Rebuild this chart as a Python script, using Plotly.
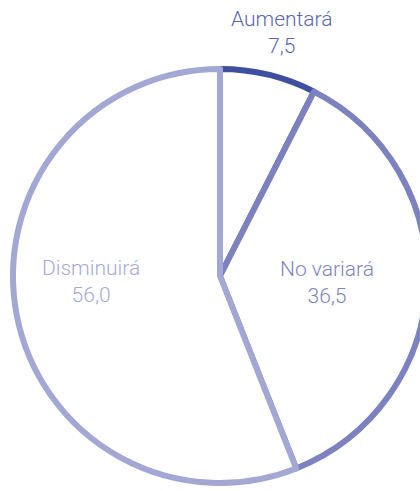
import plotly.graph_objects as go

labels = ["Aumentará", "No variará", "Disminuirá"]
values = [7.5, 36.5, 56.0]
line_colors = ["#3f4f9f", "#7b82bf", "#a3a7d4"]
text_colors = ["#5c67b1", "#7e85c2", "#a6aad6"]

W, H = 440, 491
cx, cy, r = 220, 276, 207

fig = go.Figure(go.Pie(
    labels=labels,
    values=values,
    sort=False,
    direction="clockwise",
    rotation=0,
    textinfo="none",
    hoverinfo="label+value",
    marker=dict(colors=["white"] * 3, line=dict(color=line_colors, width=6)),
    domain=dict(x=[(cx - r) / W, (cx + r) / W], y=[(H - cy - r) / H, (H - cy + r) / H]),
    showlegend=False,
))

label_pos = [(282, 32), (327, 282), (91, 281)]
for lab, val, col, (x, y) in zip(labels, values, text_colors, label_pos):
    fig.add_annotation(
        x=x / W, y=1 - y / H, xref="paper", yref="paper",
        text=f"{lab}<br>{val:.1f}".replace(".", ","),
        showarrow=False, xanchor="center", yanchor="middle",
        font=dict(family="Roboto, Liberation Sans, Arial, sans-serif", size=21, color=col, weight=300),
    )

fig.update_layout(
    width=W, height=H,
    margin=dict(l=0, r=0, t=0, b=0),
    paper_bgcolor="white", plot_bgcolor="white",
)

fig.write_html(
    "out.html",
    config={"displayModeBar": False},
    post_script="document.body.style.margin='0';document.body.style.overflow='hidden';",
)
